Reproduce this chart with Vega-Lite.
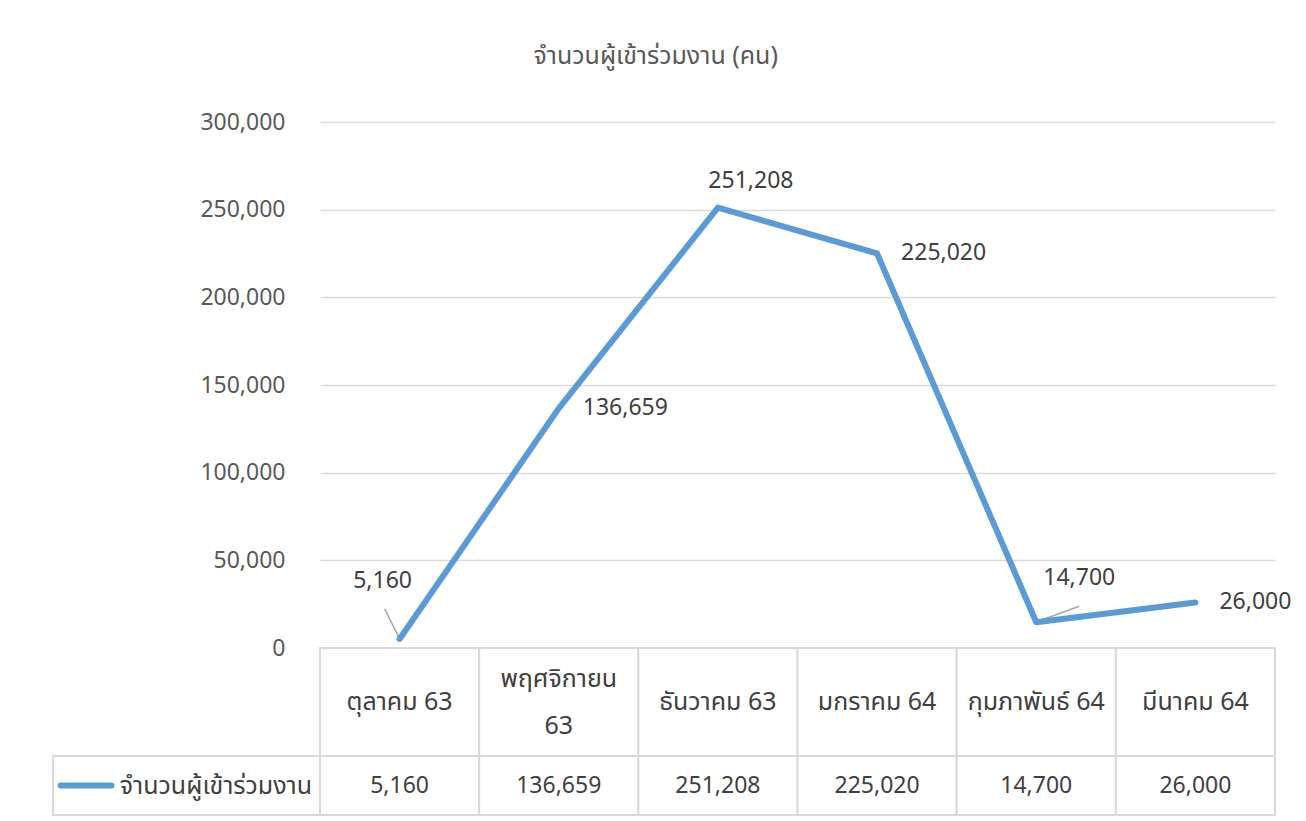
{
  "$schema": "https://vega.github.io/schema/vega-lite/v6.json",
  "background": "white",
  "padding": {"left": 52, "top": 44, "right": 10, "bottom": 5},
  "title": {"text": "จำนวนผู้เข้าร่วมงาน (คน)", "fontSize": 25, "fontWeight": "normal", "color": "#595959", "anchor": "middle", "frame": "bounds", "offset": 42, "dx": -16},
  "config": {"font": "Noto Sans Thai, Tahoma, Open Sans, sans-serif", "view": {"stroke": null}},
  "datasets": {
    "d": [
      {"month": "ตุลาคม 63", "value": 5160, "series": "จำนวนผู้เข้าร่วมงาน"},
      {"month": "พฤศจิกายน 63", "value": 136659, "series": "จำนวนผู้เข้าร่วมงาน"},
      {"month": "ธันวาคม 63", "value": 251208, "series": "จำนวนผู้เข้าร่วมงาน"},
      {"month": "มกราคม 64", "value": 225020, "series": "จำนวนผู้เข้าร่วมงาน"},
      {"month": "กุมภาพันธ์ 64", "value": 14700, "series": "จำนวนผู้เข้าร่วมงาน"},
      {"month": "มีนาคม 64", "value": 26000, "series": "จำนวนผู้เข้าร่วมงาน"}
    ],
    "legend": [{"series": "จำนวนผู้เข้าร่วมงาน", "first": "ตุลาคม 63"}]
  },
  "bounds": "flush",
  "spacing": 0,
  "resolve": {"scale": {"x": "independent", "y": "independent"}},
  "vconcat": [
    {
      "width": 955,
      "height": 526,
      "data": {"name": "d"},
      "encoding": {
        "x": {"field": "month", "type": "nominal", "axis": null, "bandPosition": 0.5, "scale": {"type": "band", "paddingInner": 0, "paddingOuter": 0, "domain": ["ตุลาคม 63", "พฤศจิกายน 63", "ธันวาคม 63", "มกราคม 64", "กุมภาพันธ์ 64", "มีนาคม 64"]}},
        "y": {"field": "value", "type": "quantitative", "scale": {"domain": [0, 300000], "nice": false},
              "axis": {"values": [0, 50000, 100000, 150000, 200000, 250000, 300000], "format": ",d", "domain": false, "ticks": false, "title": null,
                       "labelFontSize": 23, "labelColor": "#595959", "labelPadding": 35, "gridColor": "#d9d9d9", "gridWidth": 1.3}}
      },
      "layer": [
        {"mark": {"type": "rule", "color": "#a6a6a6", "strokeWidth": 1.5, "xOffset": -15, "yOffset": -30, "x2Offset": -1, "y2Offset": -2},
         "transform": [{"filter": {"field": "month", "equal": "ตุลาคม 63"}}],
         "encoding": {"x2": {"field": "month", "bandPosition": 0.5}, "y2": {"field": "value"}}},
        {"mark": {"type": "rule", "color": "#a6a6a6", "strokeWidth": 1.5, "xOffset": 2, "yOffset": -1, "x2Offset": 43, "y2Offset": -16},
         "transform": [{"filter": {"field": "month", "equal": "กุมภาพันธ์ 64"}}],
         "encoding": {"x2": {"field": "month", "bandPosition": 0.5}, "y2": {"field": "value"}}},
        {"mark": {"type": "line", "color": "#5B9BD5", "strokeWidth": 6, "strokeCap": "round", "strokeJoin": "round"}},
        {"mark": {"type": "text", "align": "left", "baseline": "middle", "dx": 24, "fontSize": 23, "color": "#404040"},
         "transform": [{"filter": {"field": "month", "oneOf": ["พฤศจิกายน 63", "มกราคม 64", "มีนาคม 64"]}}],
         "encoding": {"text": {"field": "value", "format": ",d"}}},
        {"mark": {"type": "text", "align": "center", "baseline": "middle", "dx": -17, "dy": -58, "fontSize": 23, "color": "#404040"},
         "transform": [{"filter": {"field": "month", "equal": "ตุลาคม 63"}}],
         "encoding": {"text": {"field": "value", "format": ",d"}}},
        {"mark": {"type": "text", "align": "center", "baseline": "middle", "dx": 33, "dy": -27, "fontSize": 23, "color": "#404040"},
         "transform": [{"filter": {"field": "month", "equal": "ธันวาคม 63"}}],
         "encoding": {"text": {"field": "value", "format": ",d"}}},
        {"mark": {"type": "text", "align": "center", "baseline": "middle", "dx": 43, "dy": -44, "fontSize": 23, "color": "#404040"},
         "transform": [{"filter": {"field": "month", "equal": "กุมภาพันธ์ 64"}}],
         "encoding": {"text": {"field": "value", "format": ",d"}}}
      ]
    },
    {
      "width": 955,
      "height": 108,
      "data": {"name": "d"},
      "encoding": {
        "x": {"field": "month", "type": "nominal", "axis": null, "scale": {"type": "band", "paddingInner": 0, "paddingOuter": 0, "domain": ["ตุลาคม 63", "พฤศจิกายน 63", "ธันวาคม 63", "มกราคม 64", "กุมภาพันธ์ 64", "มีนาคม 64"]}}
      },
      "layer": [
        {"mark": {"type": "rect", "fill": "white", "stroke": "#d9d9d9", "strokeWidth": 2}},
        {"mark": {"type": "text", "align": "center", "baseline": "middle", "fontSize": 25, "color": "#404040"},
         "transform": [{"filter": "datum.month != 'พฤศจิกายน 63'"}],
         "encoding": {"text": {"field": "month"}}},
        {"mark": {"type": "text", "align": "center", "baseline": "middle", "fontSize": 25, "color": "#404040", "lineHeight": 47, "dy": -23},
         "transform": [{"filter": "datum.month == 'พฤศจิกายน 63'"}, {"calculate": "['พฤศจิกายน', '63']", "as": "label"}],
         "encoding": {"text": {"field": "label"}}}
      ]
    },
    {
      "width": 955,
      "height": 59,
      "layer": [
        {"data": {"name": "d"},
         "mark": {"type": "rect", "fill": "white", "stroke": "#d9d9d9", "strokeWidth": 2},
         "encoding": {"x": {"field": "month", "type": "nominal", "axis": null, "scale": {"type": "band", "paddingInner": 0, "paddingOuter": 0, "domain": ["ตุลาคม 63", "พฤศจิกายน 63", "ธันวาคม 63", "มกราคม 64", "กุมภาพันธ์ 64", "มีนาคม 64"]}}}},
        {"data": {"name": "d"},
         "mark": {"type": "text", "align": "center", "baseline": "middle", "fontSize": 23, "color": "#404040"},
         "encoding": {"x": {"field": "month", "type": "nominal"}, "text": {"field": "value", "format": ",d"}}},
        {"data": {"name": "legend"},
         "mark": {"type": "rect", "fill": "white", "stroke": "#d9d9d9", "strokeWidth": 2},
         "encoding": {"x": {"field": "first", "type": "nominal", "bandPosition": -1.677}, "x2": {"value": 0}}},
        {"data": {"name": "legend"},
         "mark": {"type": "rule", "color": "#5B9BD5", "strokeWidth": 6, "strokeCap": "round"},
         "encoding": {"x": {"field": "first", "type": "nominal", "bandPosition": -1.63}, "x2": {"field": "first", "bandPosition": -1.31}, "y": {"value": 29.5}}},
        {"data": {"name": "legend"},
         "mark": {"type": "text", "align": "right", "baseline": "middle", "fontSize": 25, "color": "#404040"},
         "encoding": {"x": {"field": "first", "type": "nominal", "bandPosition": -0.05}, "text": {"field": "series"}}}
      ]
    }
  ]
}
